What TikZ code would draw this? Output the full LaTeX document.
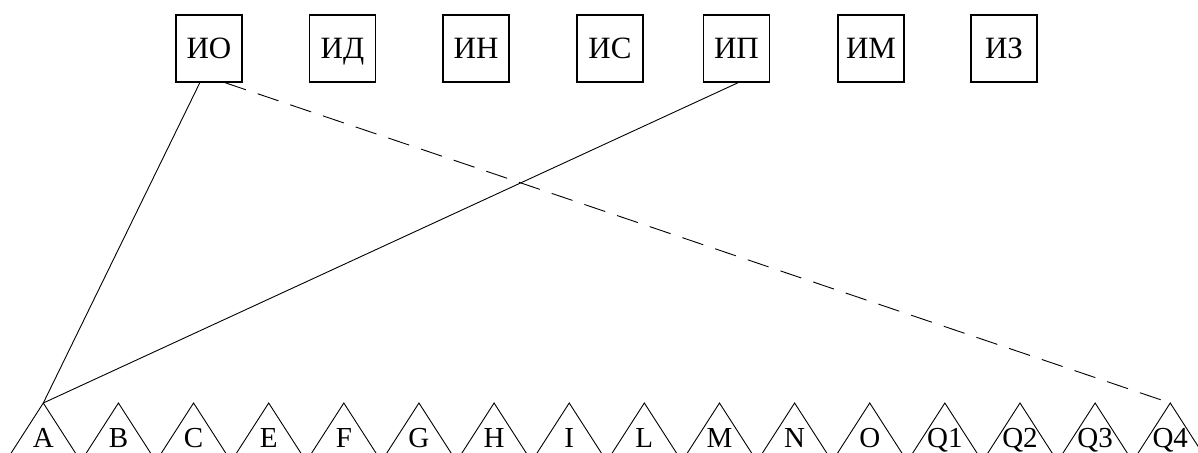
\documentclass[tikz,border=0pt]{standalone}
\usepackage{fontspec}
\setmainfont{Liberation Serif}
\usepackage{tikz}
\usetikzlibrary{positioning}
\usetikzlibrary{calc}

\begin{document}
\begin{tikzpicture}[
			x = 1pt, y = -1pt, line width = 0.9pt,
			box/.style = {draw, rectangle, line width = 1.3pt, minimum width = 66pt, minimum height = 67pt, inner sep = 0pt, text height = 20.5pt, text depth = 0pt, font = \fontsize{31}{31}\selectfont},
			leaf/.style = {anchor = base, inner sep = 0pt, font = \fontsize{29}{29}\selectfont},
			side/.style = {line width = 0.9pt},
			link/.style = {line width = 0.9pt},
			dashlink/.style = {line width = 0.9pt, dash pattern = on 22pt off 12.5pt}
		]
		\useasboundingbox (0,0) rectangle (1198,452);
		\clip (0,0) rectangle (1198,452);

		% upper boxes
		\foreach \name/\lab/\x in {IO/ИО/209, ID/ИД/342.5, IN/ИН/476, IS/ИС/610, IP/ИП/736.4, IM/ИМ/871, IZ/ИЗ/1004}
			\node[box] (\name) at (\x,48.5) {\lab};

		% leaves
		\foreach \name [count = \i from 0] in {A,B,C,E,F,G,H,I,L,M,N,O,Q1,Q2,Q3,Q4} {
			\coordinate (\name-top) at ({43.3 + 75.13*\i}, 403);
			\node[leaf] (\name) at ({43.3 + 75.13*\i}, 447) {\name};
			\draw[side] ($(\name-top)+(-36,56)$) -- (\name-top) -- ($(\name-top)+(36,56)$);
		}

		% links
		\draw[link] (IO.255) -- (A-top);
		\draw[link] (IP.273) -- (A-top);
		\draw[dashlink] (IO.295) -- (Q4-top);
\end{tikzpicture}
\end{document}
